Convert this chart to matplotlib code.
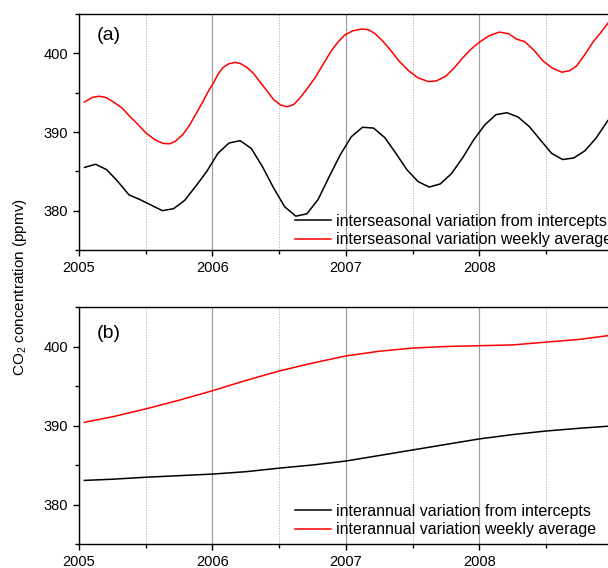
import matplotlib
matplotlib.use("Agg")
import matplotlib.pyplot as plt
from matplotlib.ticker import MultipleLocator

plt.rcParams['font.family'] = ['Liberation Sans', 'DejaVu Sans']
plt.rcParams['mathtext.fontset'] = 'custom'
plt.rcParams['mathtext.rm'] = 'Liberation Sans'
plt.rcParams['mathtext.it'] = 'Liberation Sans:italic'

# ---- panel (a): interseasonal variation from intercepts (monthly points) ----
years_a = [2005 + (i + 0.5) / 12 for i in range(49)]
seas_intercepts = [
    385.5, 385.9, 385.2, 383.7, 382.0, 381.4, 380.7, 380.0, 380.25, 381.3, 383.1, 385.0,
    387.3, 388.6, 388.9, 387.9, 385.6, 382.9, 380.5, 379.3, 379.6, 381.4, 384.3, 387.1,
    389.4, 390.6, 390.5, 389.3, 387.3, 385.2, 383.7, 383.0, 383.4, 384.7, 386.7, 389.0,
    390.9, 392.2, 392.45, 391.9, 390.7, 389.0, 387.3, 386.5, 386.7, 387.6, 389.2, 391.3,
    393.2,
]

# ---- panel (a): interseasonal variation weekly average ----
years_aw = [
    2005.04, 2005.10, 2005.15, 2005.20, 2005.25, 2005.32, 2005.38, 2005.44, 2005.50,
    2005.57, 2005.63, 2005.68, 2005.72, 2005.78, 2005.83, 2005.88, 2005.93, 2005.97,
    2006.01, 2006.04, 2006.08, 2006.12, 2006.17, 2006.21, 2006.26, 2006.31, 2006.36,
    2006.41, 2006.46, 2006.51, 2006.56, 2006.61, 2006.66, 2006.71, 2006.77, 2006.83,
    2006.89, 2006.94, 2006.99, 2007.05, 2007.12, 2007.17, 2007.22, 2007.28, 2007.34,
    2007.40, 2007.47, 2007.54, 2007.62, 2007.68, 2007.75, 2007.81, 2007.87, 2007.93,
    2008.00, 2008.07, 2008.15, 2008.22, 2008.28, 2008.34, 2008.41, 2008.48, 2008.55,
    2008.62, 2008.68, 2008.73, 2008.79, 2008.86, 2008.91, 2008.95, 2009.02,
]
seas_weekly = [
    393.8, 394.4, 394.55, 394.4, 393.9, 393.1, 392.0, 391.0, 389.9,
    389.0, 388.55, 388.5, 388.8, 389.7, 390.9, 392.4, 393.9, 395.2,
    396.3, 397.3, 398.2, 398.65, 398.85, 398.7, 398.2, 397.4, 396.3,
    395.2, 394.1, 393.45, 393.2, 393.5, 394.4, 395.5, 396.9, 398.6,
    400.3, 401.4, 402.3, 402.85, 403.1, 403.0, 402.5, 401.5, 400.3,
    399.0, 397.8, 396.9, 396.4, 396.5, 397.1, 398.1, 399.3, 400.4,
    401.4, 402.2, 402.7, 402.5, 401.8, 401.5, 400.4, 399.0, 398.1,
    397.6, 397.8, 398.4, 399.8, 401.6, 402.6, 403.5, 405.0,
]

# ---- panel (b): interannual variation (quarterly points) ----
years_b = [2005.04, 2005.25, 2005.5, 2005.75, 2006.0, 2006.25, 2006.5, 2006.75,
           2007.0, 2007.25, 2007.5, 2007.75, 2008.0, 2008.25, 2008.5, 2008.75,
           2009.0, 2009.25]
ann_intercepts = [383.05, 383.2, 383.45, 383.65, 383.85, 384.15, 384.6, 385.0,
                  385.5, 386.2, 386.9, 387.6, 388.3, 388.85, 389.3, 389.65,
                  389.95, 390.2]
ann_weekly = [390.4, 391.1, 392.1, 393.2, 394.4, 395.7, 396.9, 397.9,
              398.8, 399.4, 399.8, 400.0, 400.1, 400.2, 400.55, 400.9,
              401.45, 402.0]

xticks = [2005, 2006, 2007, 2008]
xtick_labels = ['2005', '2006', '2007', '2008']
yticks = [380, 390, 400]

W, H = 608, 568
fig = plt.figure(figsize=(W / 100, H / 100), dpi=100)

px_per_year = 133.4
left_px = 79
x0, x1 = 2005, 2010
width_px = px_per_year * (x1 - x0)

def make_ax(top_px, bottom_px):
    ax = fig.add_axes([left_px / W, 1 - bottom_px / H, width_px / W, (bottom_px - top_px) / H])
    ax.set_xlim(x0, x1)
    ax.set_ylim(375, 405)
    ax.set_xticks(xticks)
    ax.set_xticklabels(xtick_labels)
    ax.set_yticks(yticks)
    ax.xaxis.set_minor_locator(MultipleLocator(0.5))
    ax.yaxis.set_minor_locator(MultipleLocator(5))
    ax.tick_params(which='major', direction='out', length=4.5, width=1.0,
                   labelsize=10.5, pad=3.5, top=False, right=False, colors='black')
    ax.tick_params(which='minor', direction='out', length=3, width=1.0,
                   top=False, right=False)
    for s in ax.spines.values():
        s.set_linewidth(1.0)
    ax.grid(True, which='major', axis='x', color='#a0a0a0', linewidth=0.9, linestyle='-')
    ax.grid(True, which='minor', axis='x', color='#aaaaaa', linewidth=0.7, linestyle=':')
    ax.set_axisbelow(True)
    return ax

ax1 = make_ax(14, 250)
ax2 = make_ax(307, 544)

ax1.plot(years_a, seas_intercepts, color='black', linewidth=1.1,
         label='interseasonal variation from intercepts')
ax1.plot(years_aw, seas_weekly, color='red', linewidth=1.1,
         label='interseasonal variation weekly average')

ax2.plot(years_b, ann_intercepts, color='black', linewidth=1.1,
         label='interannual variation from intercepts')
ax2.plot(years_b, ann_weekly, color='red', linewidth=1.1,
         label='interannual variation weekly average')

fig.text(97 / W, 1 - 36 / H, '(a)', fontsize=14, va='center', ha='left')
fig.text(97 / W, 1 - 334 / H, '(b)', fontsize=14, va='center', ha='left')

fig.text(20 / W, 1 - 287 / H, 'CO$_2$ concentration (ppmv)', fontsize=11,
         rotation=90, va='center', ha='center')

for ax, ytop in ((ax1, 214), (ax2, 504)):
    ax.legend(loc='upper left', bbox_to_anchor=(295 / W, 1 - ytop / H),
              bbox_transform=fig.transFigure, frameon=False, fontsize=11.5,
              handlelength=2.25, handletextpad=0.3, labelspacing=0.2,
              borderaxespad=0, borderpad=0)

fig.savefig('out.png', dpi=100)
